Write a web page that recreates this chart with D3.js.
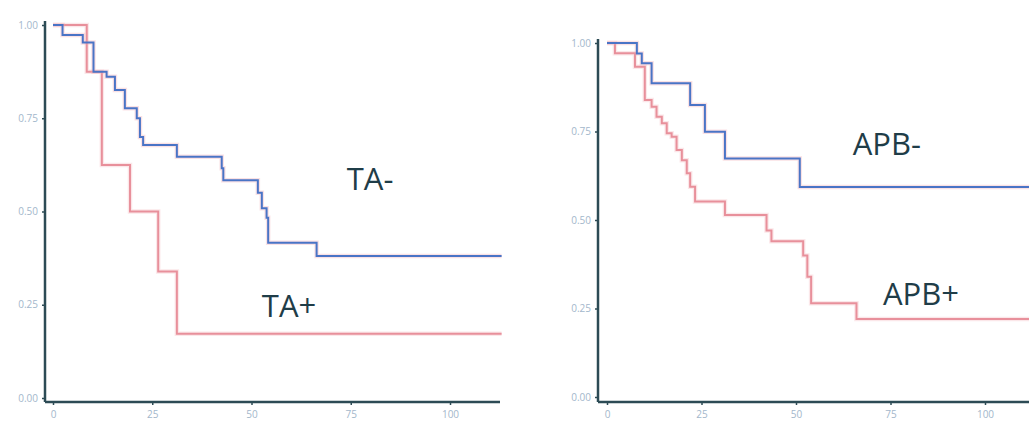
<!DOCTYPE html>
<meta charset="utf-8">
<script src="https://d3js.org/d3.v7.min.js"></script>
<style>
  body { margin: 0; background: #fff; }
  .tick text { font-family: "Open Sans", sans-serif; font-size: 10px; fill: #a3b7cb; }
  .tick line { stroke: #2c4b55; stroke-width: 1.5px; }
  .grp { font-family: "Open Sans", sans-serif; font-size: 31px; fill: #1f3d48; }
</style>
<div id="chart"></div>
<script>
// Kaplan-Meier style step curves
var taNegT = [0, 2.4, 7.5, 10.2, 13.5, 15.6, 18.1, 21.1, 21.9, 22.7, 31.2, 42.5, 42.9, 51.6, 52.6, 53.8, 54.2, 66.4, 113];
var taNegS = [1, 0.973, 0.953, 0.875, 0.861, 0.826, 0.777, 0.75, 0.70, 0.678, 0.647, 0.616, 0.584, 0.55, 0.509, 0.483, 0.416, 0.381, 0.381];
var taPosT = [0, 8.5, 12.3, 19.4, 26.5, 31.2, 113];
var taPosS = [1, 0.875, 0.625, 0.5, 0.339, 0.172, 0.172];

var apbNegT = [0, 7.9, 9.2, 11.8, 22, 25.9, 31.2, 51, 112];
var apbNegS = [1, 0.97, 0.943, 0.886, 0.825, 0.749, 0.674, 0.593, 0.593];
var apbPosT = [0, 2.1, 7.4, 10, 11.8, 13.1, 14.5, 15.8, 17.1, 18.4, 19.8, 21.1, 22, 23.3, 31.2, 42.2, 43.5, 51.9, 53, 54, 66, 112];
var apbPosS = [1, 0.971, 0.933, 0.839, 0.82, 0.792, 0.773, 0.745, 0.735, 0.698, 0.669, 0.632, 0.594, 0.552, 0.514, 0.47, 0.44, 0.40, 0.34, 0.265, 0.22, 0.22];

var xTicks = [0, 25, 50, 75, 100];
var yTicks = [0, 0.25, 0.5, 0.75, 1];

var blue = "#4a74c6", pink = "#e8909b";

var svg = d3.select("#chart").append("svg")
    .attr("width", 1029)
    .attr("height", 433);

function zip(t, s) { return t.map(function(d, i) { return {t: d, s: s[i]}; }); }

function panel(p) {
    var x = d3.scaleLinear().domain([0, 100]).range([p.x0, p.x100]);
    var y = d3.scaleLinear().domain([0, 1]).range([p.y0, p.y1]);
    var g = svg.append("g");

    // y axis
    var ya = g.append("g")
        .attr("transform", "translate(" + p.axisX + ",0)")
        .call(d3.axisLeft(y).tickValues(yTicks).tickFormat(d3.format(".2f")).tickSize(3).tickPadding(4));
    ya.select(".domain").remove();

    // x axis
    var xa = g.append("g")
        .attr("transform", "translate(0," + p.axisY + ")")
        .call(d3.axisBottom(x).tickValues(xTicks).tickSize(3).tickPadding(6));
    xa.select(".domain").remove();

    // axis lines
    g.append("line")
        .attr("x1", p.axisX).attr("x2", p.axisX)
        .attr("y1", y(1) - 4).attr("y2", p.axisY)
        .style("stroke", "#2c4b55").style("stroke-width", 2.5);
    g.append("line")
        .attr("x1", p.axisX).attr("x2", p.xEnd)
        .attr("y1", p.axisY).attr("y2", p.axisY)
        .style("stroke", "#2c4b55").style("stroke-width", 2.5);

    var line = d3.line()
        .x(function(d) { return x(d.t); })
        .y(function(d) { return y(d.s); })
        .curve(d3.curveStepAfter);

    p.series.forEach(function(s) {
        // soft halo like the reference
        g.append("path").datum(s.data)
            .attr("d", line).attr("fill", "none")
            .attr("stroke", s.halo).attr("stroke-opacity", 0.35).attr("stroke-width", 4.5);
        g.append("path").datum(s.data)
            .attr("d", line).attr("fill", "none")
            .attr("stroke", s.color).attr("stroke-width", 2);
    });

    p.labels.forEach(function(l) {
        g.append("text").attr("class", "grp")
            .attr("x", x(l.t)).attr("y", y(l.s))
            .text(l.text);
    });
}

panel({
    x0: 53, x100: 450, y0: 398, y1: 25, axisX: 45, axisY: 402, xEnd: 500,
    series: [
        {data: zip(taPosT, taPosS), color: pink, halo: "#f4b9bf"},
        {data: zip(taNegT, taNegS), color: blue, halo: "#f0a9b1"}
    ],
    labels: [
        {text: "TA-", t: 74, s: 0.558},
        {text: "TA+", t: 52.6, s: 0.217}
    ]
});

panel({
    x0: 607, x100: 985, y0: 397, y1: 43, axisX: 598, axisY: 402, xEnd: 1029,
    series: [
        {data: zip(apbPosT, apbPosS), color: pink, halo: "#f4b9bf"},
        {data: zip(apbNegT, apbNegS), color: blue, halo: "#f0a9b1"}
    ],
    labels: [
        {text: "APB-", t: 65, s: 0.683},
        {text: "APB+", t: 73, s: 0.26}
    ]
});
</script>
